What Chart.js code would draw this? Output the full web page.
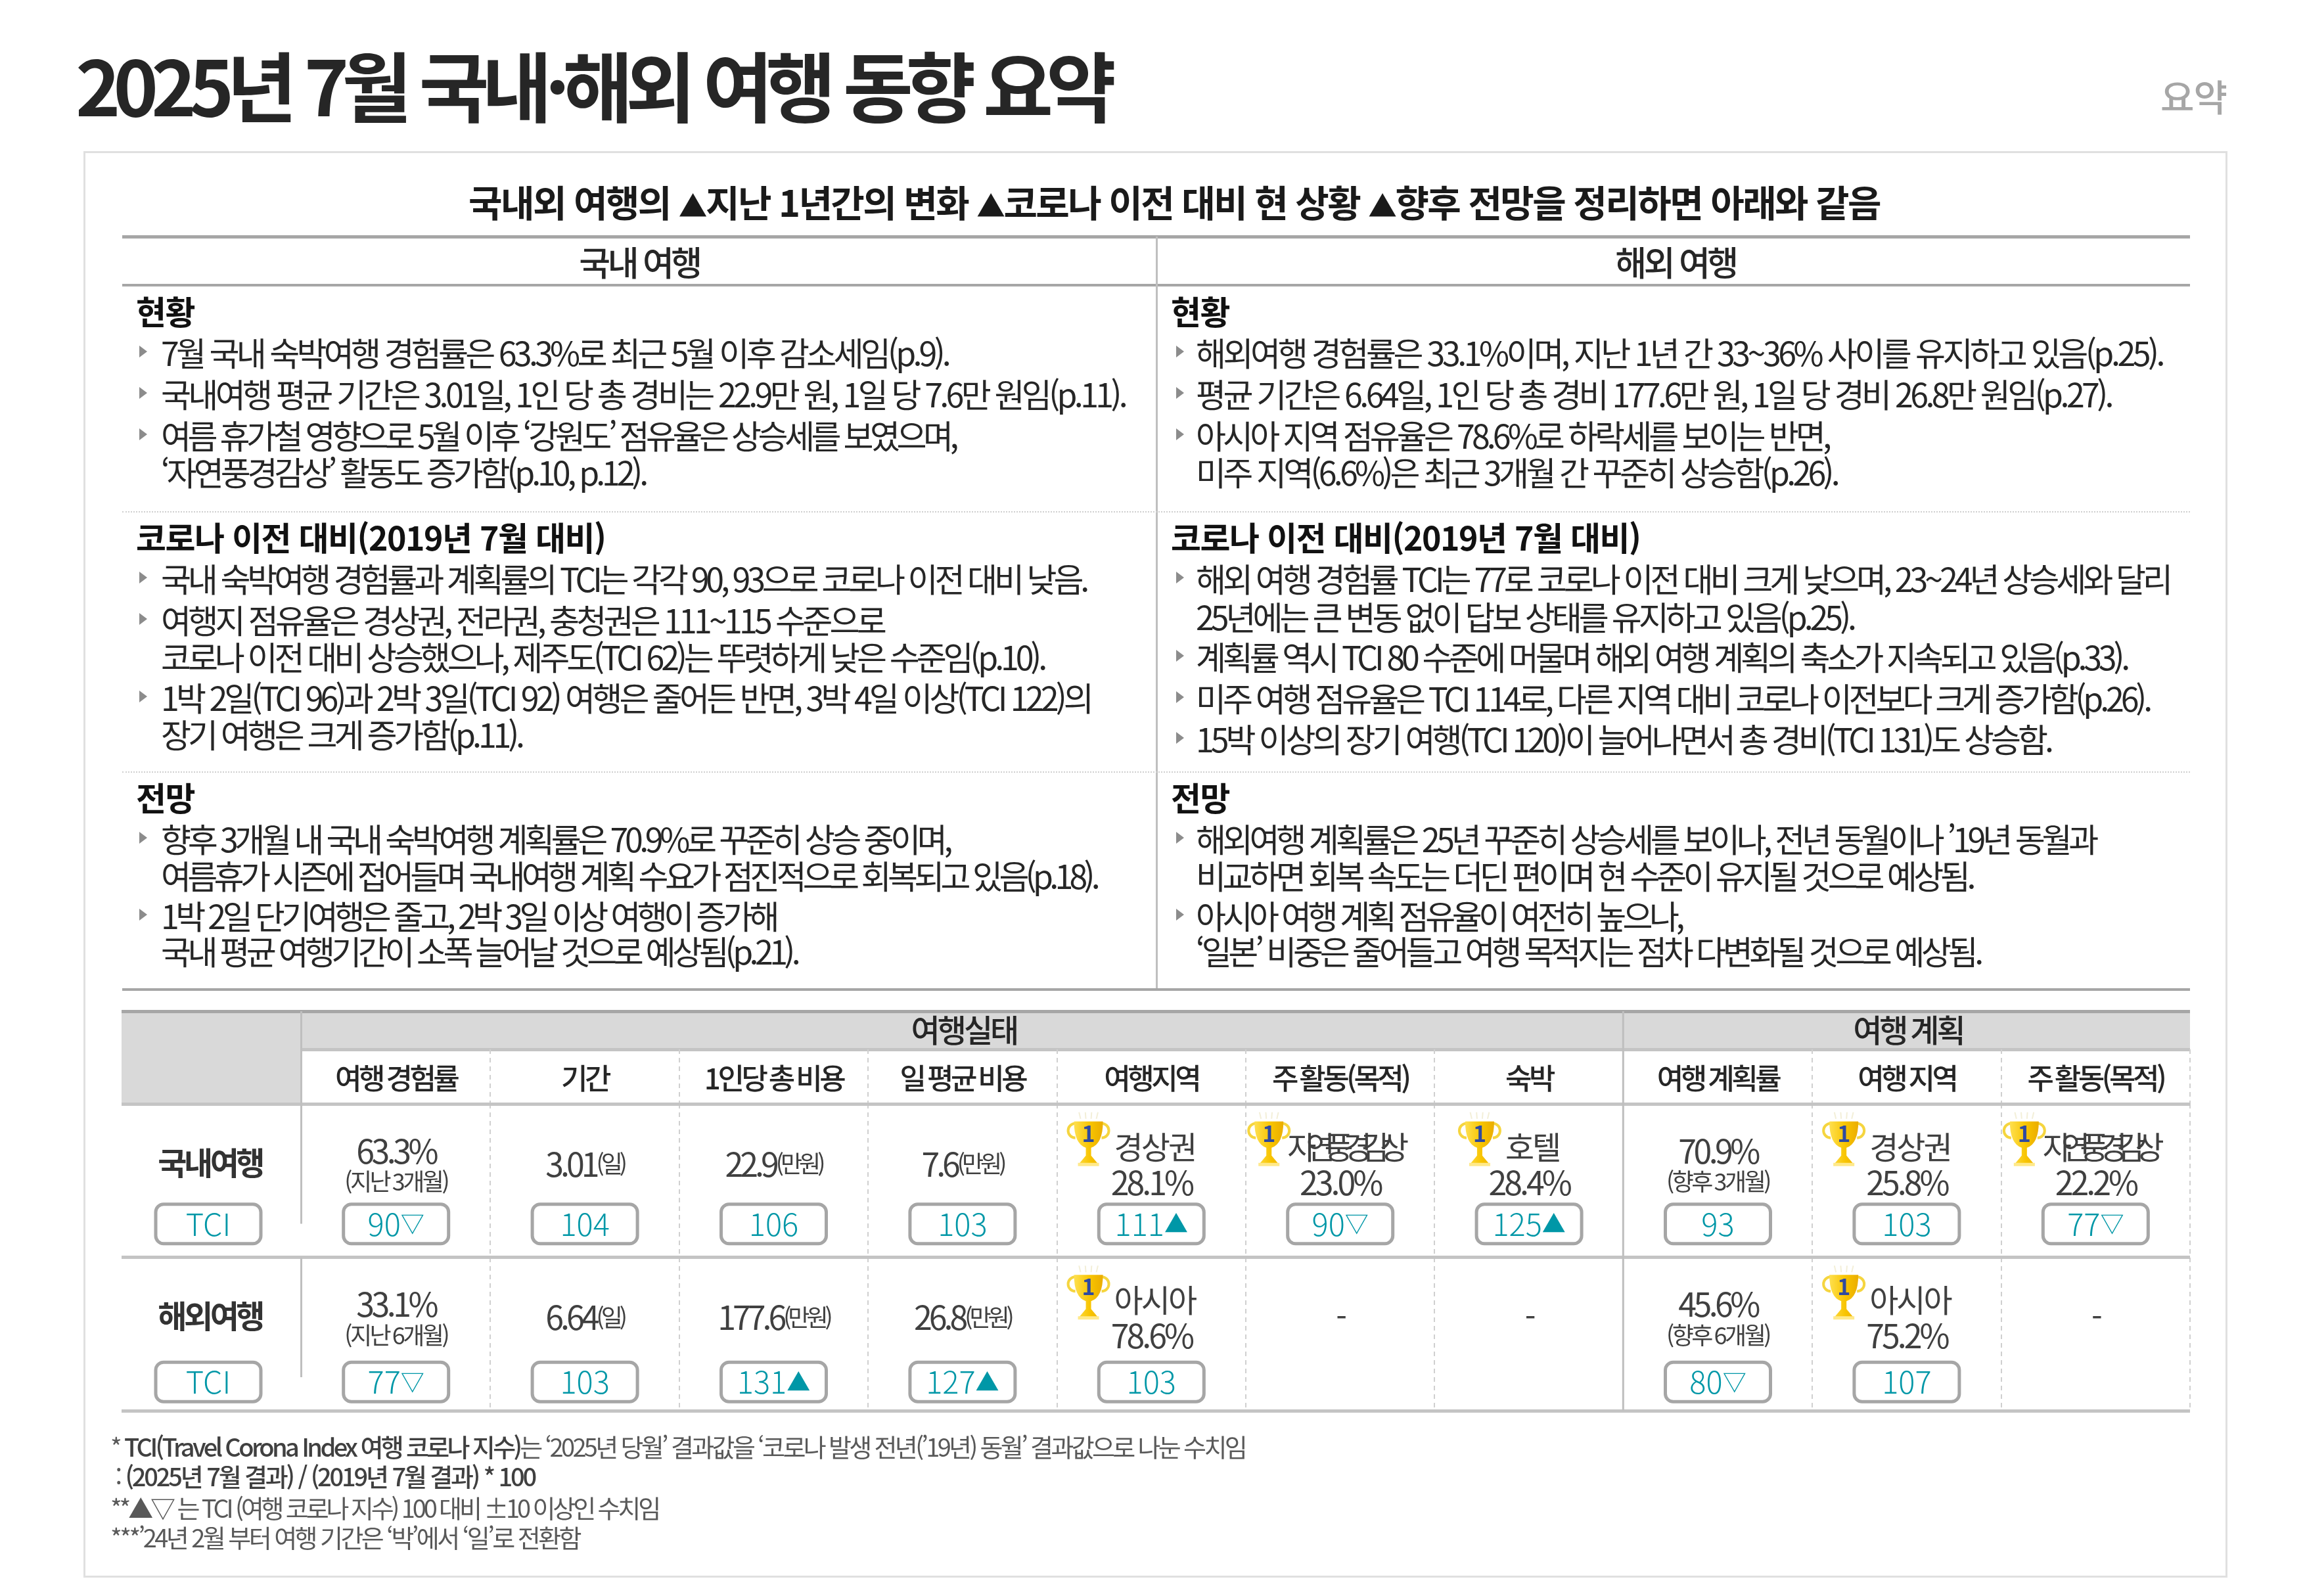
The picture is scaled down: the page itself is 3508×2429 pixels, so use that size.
<!DOCTYPE html>
<html lang="ko">
<head>
<meta charset="utf-8">
<title>2025년 7월 국내·해외 여행 동향 요약</title>
<script src="https://cdn.jsdelivr.net/npm/chart.js@4/dist/chart.umd.js"></script>
<style>
html, body { margin: 0; padding: 0; background: #fff; }
#page { position: relative; width: 3508px; height: 2429px; overflow: hidden; font-family: "Noto Sans CJK KR", "Noto Sans", sans-serif; color: #262626; }
#page canvas { position: absolute; left: 0; top: 0; }
.t { position: absolute; white-space: nowrap; transform: translateY(-50%); line-height: 1.2; }
.rule { position: absolute; }
.body { font-size: 50px; letter-spacing: -4.4px; }
.head { font-size: 50px; font-weight: 700; letter-spacing: -1.5px; color: #111; }
.note { font-size: 38px; letter-spacing: -3.6px; color: #595959; }
.note b { font-weight: 500; color: #404040; }
.bullet { position: absolute; width: 0; height: 0; border-left: 12px solid #8c8c8c; border-top: 9px solid transparent; border-bottom: 9px solid transparent; transform: translateY(-50%); }
</style>
</head>
<body>
<div id="page">
<canvas id="chart" width="3508" height="2429"></canvas>
</div>
<script>
// table data
let categories = ['여행 경험률', '기간', '1인당 총 비용', '일 평균 비용', '여행지역', '주 활동(목적)', '숙박', '여행 계획률', '여행 지역', '주 활동(목적)'];
let groupLabels = ['여행실태', '여행 계획'];
let groupSpans = [7, 3];
let rowLabels = ['국내여행', '해외여행'];

let mainDomestic = ['63.3%', '3.01', '22.9', '7.6', '28.1%', '23.0%', '28.4%', '70.9%', '25.8%', '22.2%'];
let mainOverseas = ['33.1%', '6.64', '177.6', '26.8', '78.6%', '-', '-', '45.6%', '75.2%', '-'];
let unitLabels = ['', '(일)', '(만원)', '(만원)', '', '', '', '', '', ''];
let subDomestic = ['(지난 3개월)', '', '', '', '', '', '', '(향후 3개월)', '', ''];
let subOverseas = ['(지난 6개월)', '', '', '', '', '', '', '(향후 6개월)', '', ''];
let topDomestic = ['', '', '', '', '경상권', '자연풍경감상', '호텔', '', '경상권', '자연풍경감상'];
let topOverseas = ['', '', '', '', '아시아', '', '', '', '아시아', ''];
let tciDomestic = [90, 104, 106, 103, 111, 90, 125, 93, 103, 77];
let tciOverseas = [77, 103, 131, 127, 103, null, null, 80, 107, null];

// text panels
let pageTitle = '2025년 7월 국내·해외 여행 동향 요약';
let pageTag = '요약';
let subTitle = '국내외 여행의 ▲지난 1년간의 변화 ▲코로나 이전 대비 현 상황 ▲향후 전망을 정리하면 아래와 같음';
let panelHeads = ['국내 여행', '해외 여행'];
let sectionHeads = ['현황', '코로나 이전 대비(2019년 7월 대비)', '전망'];
// '>' marks a line that starts with a bullet
let leftLines = [
    ['>7월 국내 숙박여행 경험률은 63.3%로 최근 5월 이후 감소세임(p.9).', '>국내여행 평균 기간은 3.01일, 1인 당 총 경비는 22.9만 원, 1일 당 7.6만 원임(p.11).', '>여름 휴가철 영향으로 5월 이후 ‘강원도’ 점유율은 상승세를 보였으며,', '‘자연풍경감상’ 활동도 증가함(p.10, p.12).'],
    ['>국내 숙박여행 경험률과 계획률의 TCI는 각각 90, 93으로 코로나 이전 대비 낮음.', '>여행지 점유율은 경상권, 전라권, 충청권은 111~115 수준으로', '코로나 이전 대비 상승했으나, 제주도(TCI 62)는 뚜렷하게 낮은 수준임(p.10).', '>1박 2일(TCI 96)과 2박 3일(TCI 92) 여행은 줄어든 반면, 3박 4일 이상(TCI 122)의', '장기 여행은 크게 증가함(p.11).'],
    ['>향후 3개월 내 국내 숙박여행 계획률은 70.9%로 꾸준히 상승 중이며,', '여름휴가 시즌에 접어들며 국내여행 계획 수요가 점진적으로 회복되고 있음(p.18).', '>1박 2일 단기여행은 줄고, 2박 3일 이상 여행이 증가해', '국내 평균 여행기간이 소폭 늘어날 것으로 예상됨(p.21).']
];
let rightLines = [
    ['>해외여행 경험률은 33.1%이며, 지난 1년 간 33~36% 사이를 유지하고 있음(p.25).', '>평균 기간은 6.64일, 1인 당 총 경비 177.6만 원, 1일 당 경비 26.8만 원임(p.27).', '>아시아 지역 점유율은 78.6%로 하락세를 보이는 반면,', '미주 지역(6.6%)은 최근 3개월 간 꾸준히 상승함(p.26).'],
    ['>해외 여행 경험률 TCI는 77로 코로나 이전 대비 크게 낮으며, 23~24년 상승세와 달리', '25년에는 큰 변동 없이 답보 상태를 유지하고 있음(p.25).', '>계획률 역시 TCI 80 수준에 머물며 해외 여행 계획의 축소가 지속되고 있음(p.33).', '>미주 여행 점유율은 TCI 114로, 다른 지역 대비 코로나 이전보다 크게 증가함(p.26).', '>15박 이상의 장기 여행(TCI 120)이 늘어나면서 총 경비(TCI 131)도 상승함.'],
    ['>해외여행 계획률은 25년 꾸준히 상승세를 보이나, 전년 동월이나 ’19년 동월과', '비교하면 회복 속도는 더딘 편이며 현 수준이 유지될 것으로 예상됨.', '>아시아 여행 계획 점유율이 여전히 높으나,', '‘일본’ 비중은 줄어들고 여행 목적지는  점차 다변화될 것으로 예상됨.']
];
let footNotes = [
    '* <b>TCI(Travel Corona Index 여행 코로나 지수)</b>는 ‘2025년 당월’ 결과값을 ‘코로나 발생 전년(’19년) 동월’ 결과값으로 나눈 수치임',
    '&nbsp;: <b>(2025년 7월 결과) / (2019년 7월 결과) * 100</b>',
    '**▲▽ 는 TCI (여행 코로나 지수) 100 대비 ±10 이상인 수치임',
    '***’24년 2월 부터 여행 기간은 ‘박’에서 ‘일’로 전환함'
];

const FONT = '"Noto Sans CJK KR", "Noto Sans", sans-serif';
const TEAL = '#0097a7';
let page = document.querySelector('#page');

let addText = (text, x, y, css, cls) => {
    let el = document.createElement('div');
    el.className = 't ' + (cls || '');
    el.innerHTML = text;
    el.style.left = x + 'px';
    el.style.top = y + 'px';
    Object.assign(el.style, css || {});
    page.appendChild(el);
    return el;
}

let addRule = (x, y, w, h, color) => {
    let el = document.createElement('div');
    el.className = 'rule';
    el.style.cssText = `left:${x}px;top:${y}px;width:${w}px;height:${h}px;background:${color}`;
    page.appendChild(el);
}

// squeeze or stretch one text line to the width seen in the picture
let fitWidth = (el, width) => {
    let now = el.getBoundingClientRect().width;
    let chars = el.textContent.length;
    let ls = parseFloat(getComputedStyle(el).letterSpacing) || 0;
    el.style.letterSpacing = (ls + (width - now) / chars) + 'px';
}

let addPanel = (groups, headX, textX, bulletX, rows, ends) => {
    groups.forEach((lines, g) => {
        addText(sectionHeads[g], headX, rows[g][0], {}, 'head');
        lines.forEach((line, i) => {
            let y = rows[g][i + 1];
            let bullet = line[0] === '>';
            let el = addText(bullet ? line.slice(1) : line, textX, y, {}, 'body');
            fitWidth(el, ends[g][i] - textX);
            if (bullet) {
                let b = document.createElement('div');
                b.className = 'bullet';
                b.style.left = bulletX + 'px';
                b.style.top = y + 'px';
                page.appendChild(b);
            }
        });
    });
}

let buildPage = () => {
    fitWidth(addText(pageTitle, 115, 127, {fontSize: '116px', fontWeight: 700, color: '#262626'}), 1573);
    addText(pageTag, 3288, 145, {fontSize: '56px', fontWeight: 500, color: '#a6a6a6', letterSpacing: '-1px'});

    // card
    let card = document.createElement('div');
    card.style.cssText = 'position:absolute;left:127px;top:230px;width:3263px;height:2171px;border:3px solid #e0e0e0;box-sizing:border-box;';
    page.appendChild(card);

    let subHtml = subTitle.replace(/▲/g, '<span style="font-size:.78em">▲</span>');
    fitWidth(addText(subHtml, 713, 306, {fontSize: '56px', fontWeight: 700, color: '#1a1a1a'}), 2148);

    addRule(186, 358, 3147, 5, '#a6a6a6');
    addRule(186, 432, 3147, 4, '#a6a6a6');
    addRule(186, 1504, 3147, 4, '#a6a6a6');
    addRule(1759, 360, 3, 1144, '#bfbfbf');
    [778, 1174].forEach(y => {
        let d = document.createElement('div');
        d.style.cssText = `position:absolute;left:186px;top:${y}px;width:3147px;border-top:2px dotted #cfcfcf;`;
        page.appendChild(d);
    });

    addText(panelHeads[0], 973, 398, {fontSize: '52px', fontWeight: 500, letterSpacing: '-4.5px', transform: 'translate(-50%,-50%)'});
    addText(panelHeads[1], 2550, 398, {fontSize: '52px', fontWeight: 500, letterSpacing: '-4.5px', transform: 'translate(-50%,-50%)'});

    let leftRows = [
        [472, 535, 598, 661, 717],
        [816, 879, 942, 998, 1060, 1116],
        [1212, 1275, 1331, 1392, 1446]
    ];
    let rightRows = [
        [472, 535, 598, 661, 717],
        [816, 879, 937, 998, 1061, 1123],
        [1212, 1275, 1331, 1392, 1446]
    ];
    // right end of each line
    let leftEnds = [
        [1443, 1712, 1454, 982],
        [1653, 1345, 1589, 1660, 794],
        [1445, 1669, 1181, 1213]
    ];
    let rightEnds = [
        [3291, 3213, 2783, 2796],
        [3302, 2821, 3237, 3271, 3121],
        [3189, 3002, 2559, 3013]
    ];
    addPanel(leftLines, 207, 245, 212, leftRows, leftEnds);
    addPanel(rightLines, 1782, 1820, 1790, rightRows, rightEnds);

    let noteEnds = [1895, 814, 1002, 882];
    [2201, 2246, 2294, 2339].forEach((y, i) => {
        fitWidth(addText(footNotes[i], 168, y, {}, 'note'), noteEnds[i] - 168);
    });
}

let roundRect = (ctx, x, y, w, h, r) => {
    ctx.beginPath();
    ctx.roundRect(x, y, w, h, r);
}

let drawTrophy = (ctx, x, y) => {
    ctx.save();
    let grad = ctx.createLinearGradient(x - 26, 0, x + 26, 0);
    grad.addColorStop(0, '#ffe45c');
    grad.addColorStop(0.55, '#f8c400');
    grad.addColorStop(1, '#e8a800');
    // faint rays over the cup
    ctx.strokeStyle = '#f3efd8';
    ctx.lineWidth = 2;
    [-12, -4, 4, 12].forEach(dx => {
        ctx.beginPath();
        ctx.moveTo(x + dx, y - 34);
        ctx.lineTo(x + dx * 1.2, y - 44);
        ctx.stroke();
    });
    // handles
    ctx.strokeStyle = '#f5d53f';
    ctx.lineWidth = 4;
    ctx.beginPath();
    ctx.arc(x - 20, y - 16, 11, Math.PI * 0.5, Math.PI * 1.5);
    ctx.stroke();
    ctx.beginPath();
    ctx.arc(x + 20, y - 16, 11, -Math.PI * 0.5, Math.PI * 0.5);
    ctx.stroke();
    // cup
    ctx.fillStyle = grad;
    ctx.beginPath();
    ctx.moveTo(x - 22, y - 30);
    ctx.lineTo(x + 22, y - 30);
    ctx.quadraticCurveTo(x + 22, y + 4, x + 4, y + 10);
    ctx.lineTo(x + 4, y + 22);
    ctx.lineTo(x + 14, y + 34);
    ctx.lineTo(x - 14, y + 34);
    ctx.lineTo(x - 4, y + 22);
    ctx.lineTo(x - 4, y + 10);
    ctx.quadraticCurveTo(x - 22, y + 4, x - 22, y - 30);
    ctx.fill();
    ctx.fillStyle = '#ffe98a';
    ctx.fillRect(x - 16, y + 33, 32, 5);
    ctx.fillStyle = '#2f4aa0';
    ctx.font = `700 34px ${FONT}`;
    ctx.textAlign = 'center';
    ctx.textBaseline = 'middle';
    ctx.letterSpacing = '0px';
    ctx.fillText('1', x, y - 12);
    ctx.restore();
}

let setText = (ctx, font, color, spacing) => {
    ctx.font = `${font} ${FONT}`;
    ctx.fillStyle = color;
    ctx.letterSpacing = spacing + 'px';
    ctx.textBaseline = 'middle';
}

let drawTciBox = (ctx, x, y, label, mark) => {
    ctx.save();
    ctx.fillStyle = '#fff';
    ctx.strokeStyle = '#a6a6a6';
    ctx.lineWidth = 5;
    roundRect(ctx, x - 80, y - 30, 160, 60, 12);
    ctx.fill();
    ctx.stroke();
    setText(ctx, '300 47px', TEAL, 0);
    ctx.textAlign = 'left';
    let w1 = ctx.measureText(label).width;
    let w2 = 0;
    if (mark) {
        ctx.font = `400 36px ${FONT}`;
        w2 = ctx.measureText(mark).width;
        ctx.font = `300 47px ${FONT}`;
    }
    let sx = x - (w1 + w2) / 2;
    ctx.fillText(label, sx, y);
    if (mark) {
        ctx.font = `400 36px ${FONT}`;
        ctx.fillText(mark, sx + w1, y);
    }
    ctx.restore();
}

let tciMark = (v) => {
    if (v >= 110) return '▲';
    if (v <= 90) return '▽';
    return '';
}

// draws the cell text and TCI boxes at each point the scales have placed
let tableCells = {
    id: 'tableCells',
    beforeDraw(chart) {
        let {ctx, chartArea} = chart;
        let left = chartArea.left - 274;
        let right = chartArea.right;
        let top = chartArea.top - 141;
        ctx.fillStyle = '#d9d9d9';
        ctx.fillRect(left, top, right - left, 58);
        ctx.fillRect(left, top, chartArea.left - left, chartArea.top - top);
        ctx.fillStyle = '#a6a6a6';
        ctx.fillRect(left, top - 2, right - left, 5);
        ctx.fillStyle = '#c4c4c4';
        ctx.fillRect(chartArea.left, top + 56, right - chartArea.left, 5);
        // tight tracking for the axis labels as well
        ctx.letterSpacing = '-4.5px';
    },
    afterDatasetsDraw(chart) {
        let {ctx, chartArea, scales} = chart;
        let xs = scales.x;
        let step = xs.getPixelForTick(1) - xs.getPixelForTick(0);
        let top = chartArea.top - 141;

        ctx.save();
        // solid dividers over the dashed grid
        ctx.fillStyle = '#bfbfbf';
        let split = xs.getPixelForTick(groupSpans[0]) - step / 2;
        ctx.fillRect(split - 2, top, 3, chartArea.bottom - top);
        ctx.fillRect(chartArea.left - 2, top, 3, chartArea.top - top);
        let rowTop = scales.y.getPixelForTick(0);
        let rowStep = scales.y.getPixelForTick(1) - rowTop;
        rowLabels.forEach((r, i) => {
            let py = rowTop + i * rowStep;
            ctx.fillRect(chartArea.left - 2, py - rowStep / 2, 3, rowStep - 51);
            drawTciBox(ctx, 317, py + (i ? 73 : 66), 'TCI', '');
        });

        // group headers
        let start = 0;
        groupLabels.forEach((label, i) => {
            let a = xs.getPixelForTick(start) - step / 2;
            let b = xs.getPixelForTick(start + groupSpans[i] - 1) + step / 2;
            setText(ctx, '500 48px', '#262626', -4);
            ctx.textAlign = 'center';
            ctx.fillText(label, (a + b) / 2 + 2, top + 29);
            start += groupSpans[i];
        });

        chart.data.datasets.forEach((ds, d) => {
            let points = chart.getDatasetMeta(d).data;
            let tops = d ? topOverseas : topDomestic;
            let mains = d ? mainOverseas : mainDomestic;
            let subs = d ? subOverseas : subDomestic;
            points.forEach((pt, i) => {
                let x = pt.x;
                let y = pt.y;
                ctx.textAlign = 'center';
                if (tops[i]) {
                    // ranked cell: trophy, name, share
                    let wide = tops[i].length > 4;
                    setText(ctx, '400 48px', '#404040', wide ? -16 : -3);
                    let w = ctx.measureText(tops[i]).width;
                    ctx.fillText(tops[i], x + (wide ? 4 : 5), y - 51);
                    drawTrophy(ctx, x - w / 2 - (wide ? 24 : 34), y - 60);
                    setText(ctx, '400 50px', '#404040', -4);
                    ctx.fillText(mains[i], x, y + 3);
                } else if (subs[i]) {
                    setText(ctx, '400 50px', '#404040', -4.5);
                    ctx.fillText(mains[i], x, y - 45);
                    setText(ctx, '400 36px', '#404040', -3.5);
                    ctx.fillText(subs[i], x, y + 2);
                } else if (unitLabels[i]) {
                    setText(ctx, '400 50px', '#404040', -5);
                    let w1 = ctx.measureText(mains[i]).width;
                    setText(ctx, '400 36px', '#404040', -5);
                    let w2 = ctx.measureText(unitLabels[i]).width;
                    let sx = x - (w1 + w2) / 2;
                    ctx.textAlign = 'left';
                    setText(ctx, '400 50px', '#404040', -5);
                    ctx.fillText(mains[i], sx, y - 25);
                    setText(ctx, '400 36px', '#404040', -5);
                    ctx.fillText(unitLabels[i], sx + w1, y - 25);
                    ctx.textAlign = 'center';
                } else {
                    setText(ctx, '400 48px', '#404040', -4);
                    ctx.fillText(mains[i], x, y - 25);
                }
                let v = ds.tci[i];
                if (v !== null) {
                    drawTciBox(ctx, x, y + (d ? 73 : 66), String(v), tciMark(v));
                }
            });
        });
        ctx.restore();
    }
}

let createTable = () => {
    let ctx = document.querySelector('#chart').getContext('2d');
    let pointsFor = (row) => categories.map((c) => ({x: c, y: row}));
    return new Chart(ctx, {
        type: 'scatter',
        data: {
            datasets: [
                {label: rowLabels[0], data: pointsFor(rowLabels[0]), tci: tciDomestic, pointRadius: 0},
                {label: rowLabels[1], data: pointsFor(rowLabels[1]), tci: tciOverseas, pointRadius: 0}
            ]
        },
        options: {
            responsive: false,
            animation: false,
            devicePixelRatio: 1,
            layout: {padding: {left: 185, top: 1597, right: 175, bottom: 282}},
            plugins: {legend: {display: false}, tooltip: {enabled: false}, title: {display: false}},
            scales: {
                x: {
                    type: 'category',
                    labels: categories,
                    position: 'top',
                    offset: true,
                    border: {display: false, dash: [7, 6]},
                    grid: {
                        offset: true,
                        lineWidth: 2,
                        tickLength: 83,
                        tickWidth: 2,
                        tickBorderDash: [7, 6],
                        color: (c) => (c.index === 0 || c.index === 10 || c.index === 7) ? 'rgba(0,0,0,0)' : '#d0d0d0'
                    },
                    ticks: {
                        padding: -71,
                        autoSkip: false,
                        maxRotation: 0,
                        minRotation: 0,
                        color: '#262626',
                        font: {family: FONT, size: 44, weight: '500'}
                    },
                    afterFit: (scale) => { scale.height = 83; }
                },
                y: {
                    type: 'category',
                    labels: rowLabels,
                    offset: true,
                    border: {display: false},
                    grid: {
                        offset: true,
                        lineWidth: 5,
                        tickLength: 274,
                        tickWidth: 5,
                        color: (c) => c.index === 2 ? '#a6a6a6' : '#c4c4c4'
                    },
                    ticks: {
                        padding: -214,
                        labelOffset: -27,
                        color: '#333',
                        font: {family: FONT, size: 48, weight: '700'}
                    },
                    afterFit: (scale) => { scale.width = 274; }
                }
            }
        },
        plugins: [tableCells]
    });
}

let start = () => {
    createTable();
    buildPage();
}

if (document.fonts && document.fonts.ready) {
    document.fonts.ready.then(start);
} else {
    start();
}
</script>
</body>
</html>
